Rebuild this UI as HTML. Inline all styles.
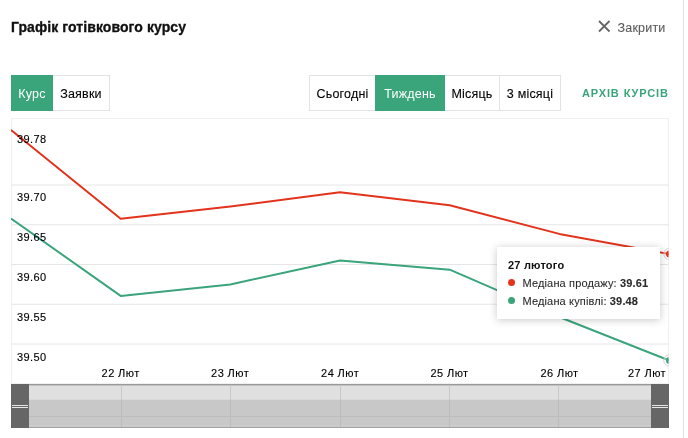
<!DOCTYPE html>
<html><head><meta charset="utf-8">
<style>
*{margin:0;padding:0;box-sizing:border-box}
html,body{width:688px;height:438px;overflow:hidden;background:#fff}
body{position:relative;will-change:transform;font-family:"Liberation Sans",sans-serif;color:#222}
.abs{position:absolute;white-space:nowrap}
#title{left:11px;top:19px;font-size:14px;font-weight:bold;letter-spacing:0.08px;color:#111;-webkit-text-stroke:0.3px #111;line-height:17px}
#close{left:597px;top:18px;width:14px;height:14px}
#closet{left:617.5px;top:21px;font-size:12.5px;letter-spacing:0.2px;color:#5c5c5c;-webkit-text-stroke:0.1px #5c5c5c;line-height:15px}
.btn{position:absolute;top:75px;height:36px;border:1px solid #e3e3e3;font-size:12.5px;letter-spacing:0.2px;line-height:34px;padding-top:1px;text-align:center;color:#000;-webkit-text-stroke:0.1px #000;background:#fff}
.btn.act{-webkit-text-stroke:0}
.btn.act{background:#3aa47b;border-color:#3aa47b;color:#fff}
#arch{left:582px;top:87px;font-size:11px;font-weight:bold;letter-spacing:0.9px;color:#3aa47b;line-height:13px}
#vline{left:683px;top:0;width:1px;height:438px;background:#e2e2e2}
svg{position:absolute;left:0;top:0}
</style></head><body>
<div class="abs" id="title">Графік готівкового курсу</div>
<svg id="close" class="abs" viewBox="0 0 14 14" width="14" height="14" style="left:597px;top:19px"><path d="M2 2L12.5 12.5M12.5 2L2 12.5" stroke="#666" stroke-width="1.8" fill="none"/></svg>
<div class="abs" id="closet">Закрити</div>

<div class="btn act" style="left:11px;width:42px">Курс</div>
<div class="btn" style="left:53px;width:57px;border-left:none">Заявки</div>

<div class="btn" style="left:309px;width:67px">Сьогодні</div>
<div class="btn act" style="left:375px;width:70px">Тиждень</div>
<div class="btn" style="left:445px;width:55px;border-left:none">Місяць</div>
<div class="btn" style="left:499px;width:62px">3 місяці</div>

<div class="abs" id="arch">АРХІВ КУРСІВ</div>
<div class="abs" id="vline"></div>

<svg width="688" height="438" viewBox="0 0 688 438" style="font-family:'Liberation Sans',sans-serif">
  <!-- plot border -->
  <rect x="11.5" y="118.5" width="657" height="266" fill="none" stroke="#f0f0f0" stroke-width="1"/>
  <!-- gridlines -->
  <g stroke="#e6e6e6" stroke-width="1">
    <path d="M11 185H669"/>
    <path d="M11 224.75H669"/>
    <path d="M11 264.5H669"/>
    <path d="M11 304.25H669"/>
    <path d="M11 344H669"/>
  </g>
  <defs><clipPath id="pc"><rect x="11" y="118" width="657.5" height="266"/></clipPath></defs>
  <g clip-path="url(#pc)" fill="none" stroke-width="2" stroke-linejoin="round">
    <path d="M11 130L120.67 218.8L230.3 206.5L340 192.2L449.7 205.2L559.3 233.9L669.5 254" stroke="#e2331c"/>
    <path d="M11 218.5L120.67 295.9L230.3 284.4L340 260.4L449.7 269.7L559.3 317L669.5 360.5" stroke="#3aa47b"/>
    <circle cx="669.5" cy="254" r="5.7" fill="#fff" fill-opacity="0.3" stroke="#c8c8c8" stroke-width="0.9"/>
    <circle cx="669.5" cy="254" r="3.5" fill="#e2331c"/>
    <circle cx="669.5" cy="360.5" r="5.7" fill="#fff" fill-opacity="0.3" stroke="#c8c8c8" stroke-width="0.9"/>
    <circle cx="669.5" cy="360.5" r="3.5" fill="#3aa47b"/>
  </g>
  <!-- y labels -->
  <g font-size="11" fill="#000" stroke="#000" stroke-width="0.12" letter-spacing="0.4">
    <text x="17" y="143">39.78</text>
    <text x="17" y="201">39.70</text>
    <text x="17" y="241">39.65</text>
    <text x="17" y="281">39.60</text>
    <text x="17" y="321">39.55</text>
    <text x="17" y="361">39.50</text>
  </g>
  <!-- x labels -->
  <g font-size="11" fill="#000" stroke="#000" stroke-width="0.12" letter-spacing="0.4" text-anchor="middle">
    <text x="120.6" y="377">22 Лют</text>
    <text x="230.1" y="377">23 Лют</text>
    <text x="340.1" y="377">24 Лют</text>
    <text x="449.5" y="377">25 Лют</text>
    <text x="559.5" y="377">26 Лют</text>
    <text x="647" y="377">27 Лют</text>
  </g>
  <!-- navigator -->
  <rect x="11" y="384" width="658" height="44" fill="#c7c8c7"/>
  <rect x="11" y="385" width="658" height="14.7" fill="#e0e0e0"/>
  <path d="M11 416.5H669" stroke="#bdbdbd"/>
  <path d="M11 383.5H669" stroke="#f0f0f0"/>
  <path d="M11 384.5H669" stroke="#999"/>
  <path d="M11 385.5H669" stroke="#c2c2c2"/>
  <path d="M11 425.5H669" stroke="#cdcdcd"/>
  <path d="M11 427.5H669" stroke="#a5a5a5"/>
  <g stroke="#c8c8c8">
    <path d="M121.5 385V400M230.5 385V400M340.5 385V400M449.5 385V400M558.5 385V400"/>
  </g>
  <g stroke="#bbbbbb">
    <path d="M121.5 400V427M230.5 400V427M340.5 400V427M449.5 400V427M558.5 400V427"/>
  </g>
  <rect x="11" y="384" width="18" height="44" fill="#666"/>
  <rect x="651" y="384" width="18" height="44" fill="#666"/>
  <g stroke="#e6e6e6" stroke-width="1">
    <path d="M12 405.5H28M12 407.5H28"/>
    <path d="M652 405.5H668M652 407.5H668"/>
  </g>
  <!-- tooltip -->
  <defs>
    <filter id="sh" x="-30%" y="-40%" width="160%" height="180%">
      <feGaussianBlur in="SourceAlpha" stdDeviation="4"/>
      <feOffset dx="0" dy="1"/>
      <feComponentTransfer><feFuncA type="linear" slope="0.22"/></feComponentTransfer>
      <feMerge><feMergeNode/><feMergeNode in="SourceGraphic"/></feMerge>
    </filter>
  </defs>
  <rect x="497" y="247" width="163" height="72" fill="#fff" filter="url(#sh)"/>
  <g font-size="11" fill="#333">
    <text x="508" y="269" font-weight="bold" fill="#111" letter-spacing="0.2">27 лютого</text>
    <circle cx="511.5" cy="282.5" r="3.5" fill="#e2331c"/>
    <text x="522.5" y="287" letter-spacing="0.15" fill="#2a2a2a" stroke="#2a2a2a" stroke-width="0.08">Медіана продажу: <tspan font-weight="bold">39.61</tspan></text>
    <circle cx="511.5" cy="300.5" r="3.5" fill="#3aa47b"/>
    <text x="522.5" y="305" letter-spacing="0.15" fill="#2a2a2a" stroke="#2a2a2a" stroke-width="0.08">Медіана купівлі: <tspan font-weight="bold">39.48</tspan></text>
  </g>
</svg>
</body></html>
